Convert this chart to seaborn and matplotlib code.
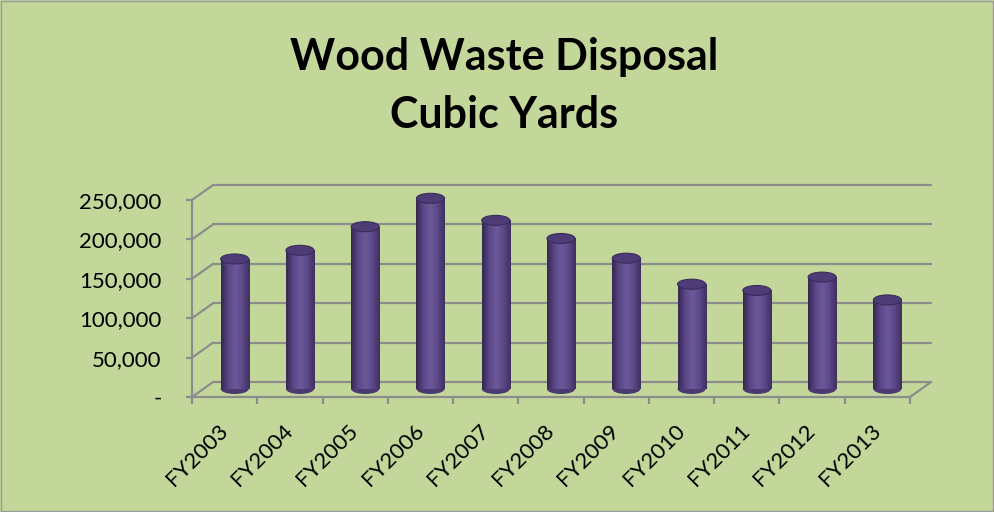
import numpy as np
import pandas as pd
import matplotlib
matplotlib.use("Agg")
import matplotlib.pyplot as plt
import seaborn as sns
from matplotlib.patches import Ellipse, Rectangle
from matplotlib.colors import LinearSegmentedColormap
from matplotlib.ticker import FuncFormatter

# data (cubic yards)
years = ["FY2003", "FY2004", "FY2005", "FY2006", "FY2007", "FY2008",
         "FY2009", "FY2010", "FY2011", "FY2012", "FY2013"]
volumes = [165000, 176000, 206000, 242000, 214000, 191000,
           166000, 133000, 125000, 142000, 113000]
y_ticks = [0, 50000, 100000, 150000, 200000, 250000]

BG = "#c4d79b"
GRID = "#8c8c8c"
BAR = "#54427f"

sns.set_theme(style="white")
plt.rcParams["font.family"] = ["Lato", "DejaVu Sans"]
plt.rcParams["text.color"] = "black"

df = pd.DataFrame({"year": years, "volume": volumes})

fig = plt.figure(figsize=(9.95, 5.12), dpi=100, facecolor=BG)
ax = fig.add_axes([0.193, 0.2246, 0.7216, 0.3848])
ax.set_facecolor("none")

sns.barplot(data=df, x="year", y="volume", color=BAR, width=0.43,
            saturation=1, ax=ax, zorder=3)

n = len(years)
ax.set_xlim(-0.5, n - 0.5)
ax.set_ylim(0, y_ticks[-1])

# pixel -> data unit helpers for the fake 3D depth
ax_w_px = 0.7216 * 995
ax_h_px = 0.3848 * 512
ux = n / ax_w_px
uy = y_ticks[-1] / ax_h_px

back_dx, back_dy = 21 * ux, 15 * uy
bar_dx, bar_dy = 10 * ux, 8 * uy
cap_h = 10 * uy

# back wall gridlines + left side-wall diagonals
for v in y_ticks:
    ax.plot([-0.5 + back_dx, n - 0.5 + back_dx], [v + back_dy, v + back_dy],
            color=GRID, lw=1.6, clip_on=False, zorder=1)
    ax.plot([-0.5, -0.5 + back_dx], [v, v + back_dy],
            color=GRID, lw=1.6, clip_on=False, zorder=1)
# floor right edge
ax.plot([n - 0.5, n - 0.5 + back_dx], [0, back_dy],
        color=GRID, lw=1.6, clip_on=False, zorder=1)

# cylinder look
cmap = LinearSegmentedColormap.from_list(
    "cyl", ["#35284f", "#5a4789", "#6b5a9a", "#5b4888", "#3f305e"])
grad = np.linspace(0, 1, 64).reshape(1, -1)
for p in ax.patches:
    p.set_x(p.get_x() + bar_dx)
    p.set_y(p.get_y() + bar_dy)
    p.set_edgecolor("none")
    x0, w, h = p.get_x(), p.get_width(), p.get_height()
    y0 = p.get_y()
    cx = x0 + w / 2
    ax.add_patch(Ellipse((cx, y0), w, cap_h, facecolor="#4a3a72",
                         edgecolor="none", zorder=2.5, clip_on=False))
    im = ax.imshow(grad, cmap=cmap, aspect="auto", extent=[x0, x0 + w, y0, y0 + h],
                   zorder=3.5, interpolation="bicubic")
    im.set_clip_path(p)
    ax.add_patch(Ellipse((cx, y0 + h), w, cap_h, facecolor="#4d3c76",
                         edgecolor="#3a2c5a", lw=0.8, zorder=4, clip_on=False))

ax.set_xlim(-0.5, n - 0.5)
ax.set_ylim(0, y_ticks[-1])

# axes styling
for s in ["top", "right"]:
    ax.spines[s].set_visible(False)
for s in ["left", "bottom"]:
    ax.spines[s].set_color(GRID)
    ax.spines[s].set_linewidth(1.6)

ax.set_yticks(y_ticks)
ax.yaxis.set_major_formatter(FuncFormatter(lambda v, _: "-" if v == 0 else f"{int(v):,}"))
ax.tick_params(axis="y", which="major", length=4, width=1.6, color=GRID,
               pad=18, labelsize=16, labelcolor="black", left=True)

ax.set_xticks(range(n))
ax.set_xticklabels(years, rotation=45, ha="right", rotation_mode="anchor", va="center")
ax.set_xticks(np.arange(-0.5, n, 1), minor=True)
ax.tick_params(axis="x", which="major", length=0, pad=22, labelsize=16, labelcolor="black")
ax.tick_params(axis="x", which="minor", length=5, width=1.6, color=GRID, bottom=True)
ax.set_xlabel("")
ax.set_ylabel("")

fig.text(0.507, 0.832, "Wood Waste Disposal\nCubic Yards", ha="center", va="center",
         fontsize=31, fontweight="bold", linespacing=1.55, color="black")

fig.patches.append(Rectangle((0.001, 0.002), 0.997, 0.996, transform=fig.transFigure,
                             fill=False, edgecolor="#9a9a9a", lw=1))

fig.savefig("out.png", dpi=100, facecolor=BG)
